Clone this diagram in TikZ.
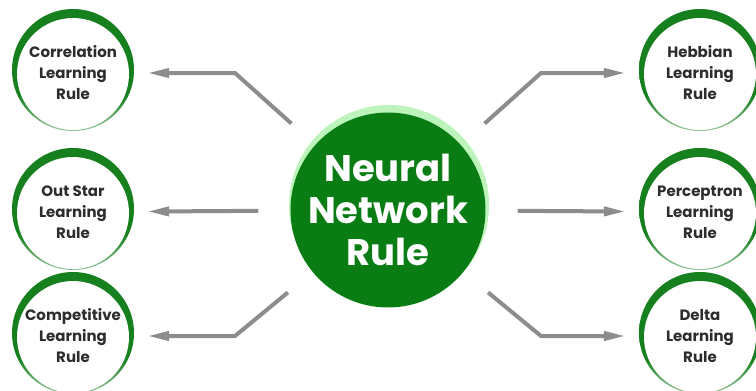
\documentclass[tikz,border=0pt]{standalone}
\usepackage{fontspec}
\newfontfamily\popfont{Poppins}
\usetikzlibrary{arrows.meta, backgrounds}
\definecolor{hubgreen}{RGB}{10,124,20}
\definecolor{hublight}{RGB}{188,244,188}
\definecolor{ringgreen}{RGB}{22,128,30}
\definecolor{arrowgray}{RGB}{140,140,140}
\definecolor{textgray}{RGB}{45,45,45}
\pgfdeclareverticalshading{ringfade}{100bp}{color(0bp)=(ringgreen!12); color(22bp)=(ringgreen!35); color(40bp)=(ringgreen); color(100bp)=(ringgreen)}

\begin{document}
\begin{tikzpicture}[x=1pt, y=-1pt,
    rule/.style={circle, minimum size=120pt, inner sep=0pt, align=center,
                 font=\popfont\bfseries\fontsize{15}{21}\selectfont, text=textgray},
    hub/.style={circle, fill=hubgreen, minimum size=181pt, inner sep=0pt, align=center,
                font=\popfont\bfseries\fontsize{37}{42}\selectfont, text=white},
    conn/.style={-{Triangle[length=22pt, width=9pt]}, line width=4pt, color=arrowgray,
                 shorten <=32pt, shorten >=14pt},
]

\useasboundingbox (0,0) rectangle (756,391);

% Positions
\pgfmathsetmacro{\xL}{73}
\pgfmathsetmacro{\xR}{700}
\pgfmathsetmacro{\xBL}{235}
\pgfmathsetmacro{\xBR}{541}
\pgfmathsetmacro{\yT}{73}
\pgfmathsetmacro{\yM}{212}
\pgfmathsetmacro{\yB}{336}

% ===== CENTRE =====
\node[hub] (hub) at (388,210) {Neural\\Network\\Rule};

% ===== LEFT RULES =====
\node[rule] (corr) at (\xL, \yT) {Correlation\\Learning\\Rule};
\node[rule] (outstar) at (\xL, \yM) {Out Star\\Learning\\Rule};
\node[rule] (comp) at (\xL, \yB) {Competitive\\Learning\\Rule};

% ===== RIGHT RULES =====
\node[rule] (hebb) at (\xR, \yT) {Hebbian\\Learning\\Rule};
\node[rule] (perc) at (\xR, \yM) {Perceptron\\Learning\\Rule};
\node[rule] (delta) at (\xR, \yB) {Delta\\Learning\\Rule};

% Bends
\coordinate (ulbend) at (\xBL, \yT);
\coordinate (llbend) at (\xBL, \yB);
\coordinate (urbend) at (\xBR, \yT);
\coordinate (lrbend) at (\xBR, \yB);

% ===== CONNECTORS =====
\draw[conn] (hub) -- (ulbend) -- (corr);
\draw[conn] (hub) -- (outstar);
\draw[conn] (hub) -- (llbend) -- (comp);
\draw[conn] (hub) -- (urbend) -- (hebb);
\draw[conn] (hub) -- (perc);
\draw[conn] (hub) -- (lrbend) -- (delta);

% ===== RINGS =====
\begin{scope}[on background layer]
    \fill[hublight] (389,205) circle (100pt);
    \foreach \n in {corr, outstar, comp, hebb, perc, delta} {
        \shade[shading=ringfade] ([yshift=3pt]\n.center) circle (61pt);
        \fill[white] ([yshift=-1pt]\n.center) circle (56pt);
    }
\end{scope}

\end{tikzpicture}
\end{document}
